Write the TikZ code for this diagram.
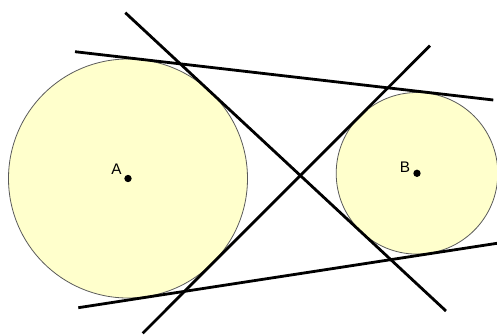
\documentclass[tikz,border=0pt]{standalone}
\usepackage{fontspec}
\setmainfont{Liberation Sans}
\begin{document}
\begin{tikzpicture}[x=0.75pt,y=-0.75pt,
  disk/.style={draw={rgb,255:red,90;green,90;blue,90},line width=0.6pt,fill={rgb,255:red,255;green,255;blue,204}},
  tangent/.style={line width=2.1pt,black},
  centerdot/.style={circle,fill=black,inner sep=0pt,minimum size=5.5pt},
  lbl/.style={font=\fontsize{11.5pt}{13pt}\selectfont,inner sep=0pt}]
\useasboundingbox (0,0) rectangle (497,336);
\coordinate (A) at (128,178.5);
\coordinate (B) at (417,173.3);
\draw[disk] (A) circle (119.5);
\draw[disk] (B) circle (80.8);
\coordinate (t1s) at (75,51.7);   \coordinate (t1e) at (493.3,100);
\coordinate (t2s) at (78.3,307.7); \coordinate (t2e) at (497,243.3);
\coordinate (i1s) at (125.3,12.7); \coordinate (i1e) at (446,311);
\coordinate (i2s) at (142.7,333.3); \coordinate (i2e) at (430,45.7);
\draw[tangent] (t1s) -- (t1e);
\draw[tangent] (t2s) -- (t2e);
\draw[tangent] (i1s) -- (i1e);
\draw[tangent] (i2s) -- (i2e);
\node[centerdot] (dA) at (A) {};
\node[centerdot] (dB) at (B) {};
\node[lbl] (lA) at (116.5,169.5) {A};
\node[lbl] (lB) at (405,167) {B};
\end{tikzpicture}
\end{document}
